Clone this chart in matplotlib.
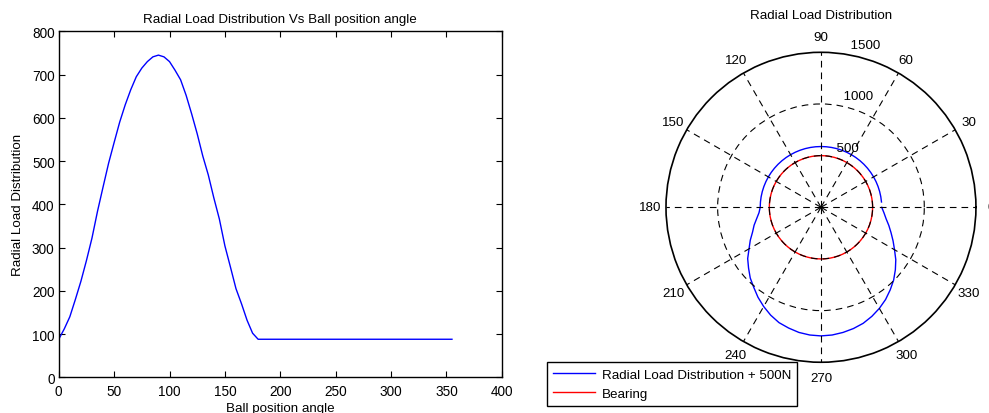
import numpy as np
import matplotlib
matplotlib.use("Agg")
import matplotlib.pyplot as plt

plt.rcParams['font.family'] = ['Liberation Sans', 'DejaVu Sans']
plt.rcParams['font.size'] = 9.6

# Ball position angle (deg) and the radial load carried at each position
ball_angle = np.arange(0, 360, 5)
radial_load = np.array([
    88, 112, 140, 180, 222, 270, 322, 384, 440, 495,
    543, 590, 630, 665, 695, 715, 730, 741, 745, 741,
    730, 710, 688, 652, 609, 563, 512, 468, 415, 366,
    304, 255, 205, 170, 132, 102, 88, 88, 88, 88,
    88, 88, 88, 88, 88, 88, 88, 88, 88, 88,
    88, 88, 88, 88, 88, 88, 88, 88, 88, 88,
    88, 88, 88, 88, 88, 88, 88, 88, 88, 88,
    88, 88,
])
load_offset = 500          # N, added so the load plots outside the bearing ring
bearing_radius = 500
bearing_angle = np.arange(0, 365, 5)

x_ticks = np.arange(0, 401, 50)
y_ticks = np.arange(0, 801, 100)
r_ticks = [500, 1000, 1500]
theta_ticks = np.arange(0, 360, 30)

fig = plt.figure(figsize=(9.89, 4.14), dpi=100)

# ---- Cartesian view -------------------------------------------------------
ax = fig.add_axes([0.0594, 0.0862, 0.448, 0.8357])
ax.plot(ball_angle, radial_load, color='blue', lw=1)
ax.set_xlim(0, 400)
ax.set_ylim(0, 800)
ax.set_xticks(x_ticks)
ax.set_yticks(y_ticks)
ax.tick_params(direction='in', top=True, right=True, length=4, width=0.8,
               labelsize=9.8)
ax.tick_params(axis='x', pad=4.5)
ax.tick_params(axis='y', pad=3)
for s in ax.spines.values():
    s.set_linewidth(1.0)
ax.set_title('Radial Load Distribution Vs Ball position angle', pad=7, fontsize=9.6)
ax.set_xlabel('Ball position angle', labelpad=3.5)
ax.set_ylabel('Radial Load Distribution', labelpad=6)

# ---- Polar view -------------------------------------------------------------
pax = fig.add_axes([0.6734, 0.1225, 0.3134, 0.7488], projection='polar')
pax.plot(-np.deg2rad(ball_angle), radial_load + load_offset, color='blue', lw=1,
         label='Radial Load Distribution + 500N')
pax.plot(np.deg2rad(bearing_angle), np.full(bearing_angle.shape, bearing_radius),
         color='red', lw=1, label='Bearing')
pax.set_ylim(0, r_ticks[-1])
pax.set_yticks(r_ticks[:-1])
pax.set_yticklabels([])
pax.set_xticks(np.deg2rad(theta_ticks))
pax.set_xticklabels([])
pax.set_axisbelow(False)
pax.grid(True, color='black', linestyle=(0, (6, 4.5)), linewidth=0.8)
pax.spines['polar'].set_linewidth(1.2)
pax.spines['polar'].set_color('black')

rmax = r_ticks[-1]
for t in theta_ticks:
    pax.text(np.deg2rad(t), 1.1 * rmax, str(t), ha='center', va='center', clip_on=False)
for r in r_ticks:
    pax.text(np.deg2rad(82), r + rmax / 60, '  ' + str(r), ha='left', va='bottom', clip_on=False)
pax.text(0.5, 1.12, 'Radial Load Distribution', transform=pax.transAxes,
         ha='center', va='center')

fig.legend(loc='upper left', bbox_to_anchor=(0.5528, 0.1225), borderaxespad=0,
           fancybox=False, edgecolor='black', framealpha=1, handlelength=3.2,
           handletextpad=0.5, borderpad=0.45, labelspacing=0.5)
fig.legends[0].get_frame().set_linewidth(1.0)

fig.savefig('out.png', dpi=100)
